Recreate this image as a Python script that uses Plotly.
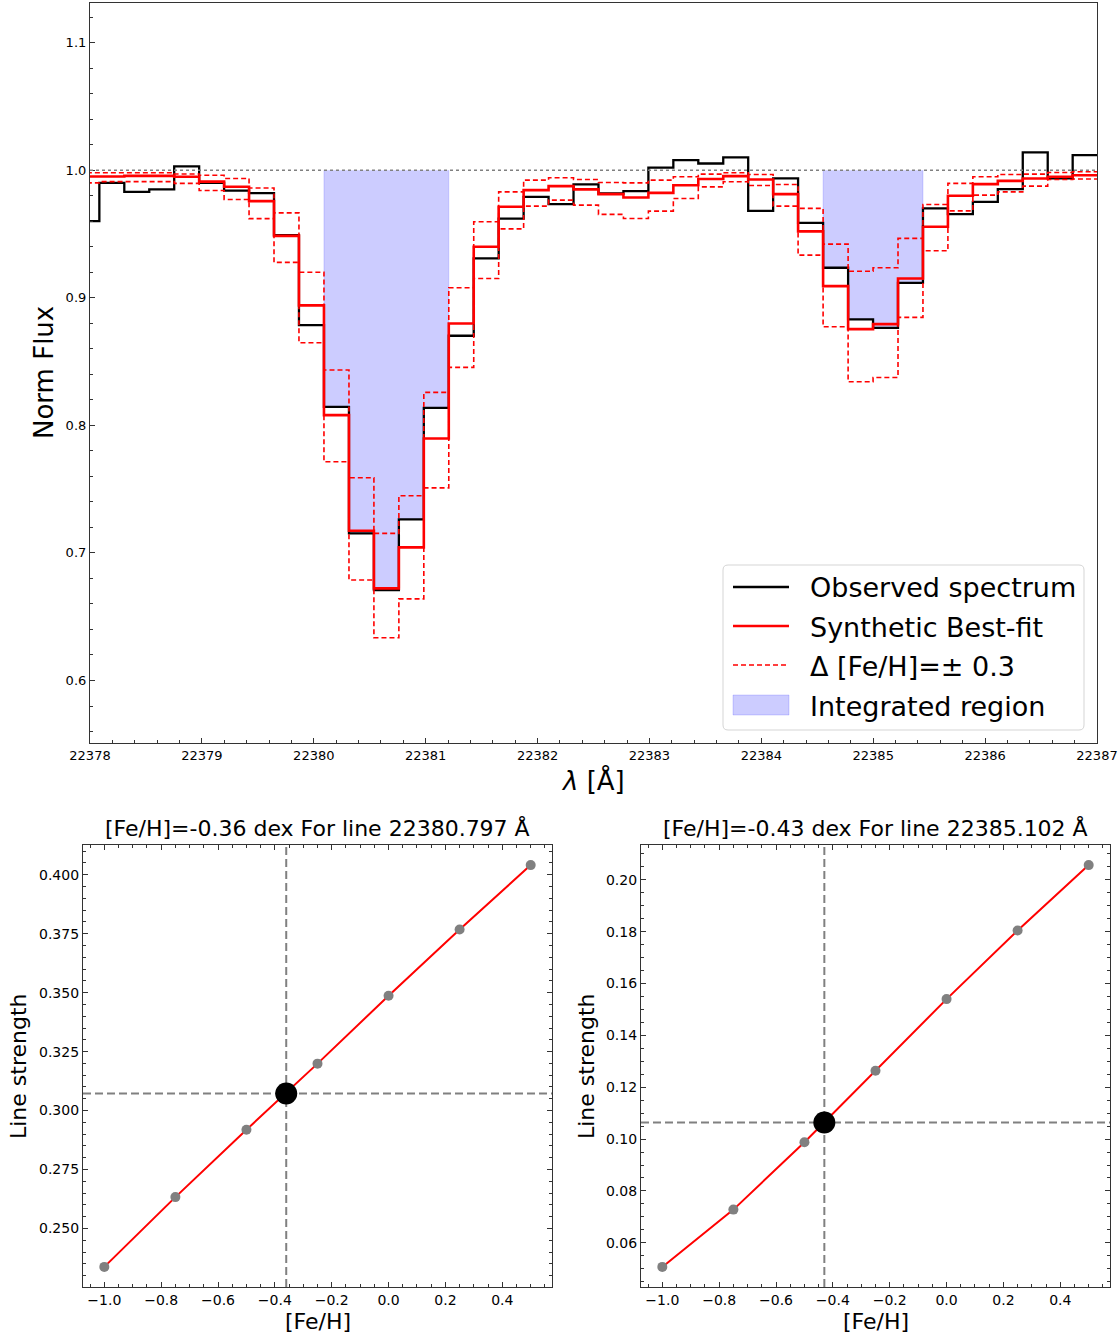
import plotly.graph_objects as go

# ---------------------------------------------------------------- spectrum data
wavelength = [
    22377.972, 22378.195, 22378.418, 22378.641, 22378.864, 22379.087, 22379.310,
    22379.533, 22379.756, 22379.979, 22380.203, 22380.426, 22380.649, 22380.872,
    22381.095, 22381.318, 22381.541, 22381.764, 22381.987, 22382.210, 22382.433,
    22382.656, 22382.879, 22383.102, 22383.325, 22383.548, 22383.771, 22383.994,
    22384.217, 22384.440, 22384.664, 22384.887, 22385.110, 22385.333, 22385.556,
    22385.779, 22386.002, 22386.225, 22386.448, 22386.671, 22386.894, 22387.117,
]
obs_flux = [
    0.960, 0.990, 0.983, 0.985, 1.003, 0.990, 0.984, 0.982, 0.949, 0.8785,
    0.8145, 0.7153, 0.6709, 0.7262, 0.8137, 0.8702, 0.9308, 0.962, 0.979, 0.9734,
    0.9888, 0.9817, 0.9835, 1.002, 1.0078, 1.0052, 1.010, 0.968, 0.9935, 0.9587,
    0.9235, 0.883, 0.8764, 0.9117, 0.970, 0.9655, 0.9752, 0.9851, 1.0139, 0.9935,
    1.0118, 1.0118,
]
fit_flux = [
    0.995, 0.995, 0.9955, 0.9955, 0.9948, 0.991, 0.987, 0.9757, 0.9485, 0.894,
    0.808, 0.7173, 0.6722, 0.7043, 0.7897, 0.8798, 0.940, 0.9713, 0.9843, 0.9875,
    0.9849, 0.9812, 0.9786, 0.9822, 0.9882, 0.993, 0.9953, 0.9927, 0.9812, 0.952,
    0.9091, 0.8754, 0.8793, 0.9151, 0.9556, 0.9799, 0.989, 0.9916, 0.9935, 0.9948,
    0.996, 0.996,
]
# synthetic spectra computed at [Fe/H] -0.3 and +0.3 around the best fit
fit_flux_low_feh = [
    0.998, 0.998, 0.998, 0.998, 0.997, 0.996, 0.9935, 0.986, 0.9665, 0.920,
    0.8433, 0.7589, 0.7153, 0.7448, 0.8258, 0.9078, 0.9595, 0.983, 0.9922, 0.994,
    0.9927, 0.9903, 0.990, 0.9922, 0.9948, 0.9969, 0.9979, 0.9966, 0.9888, 0.970,
    0.942, 0.9208, 0.9235, 0.9465, 0.9731, 0.9896, 0.9948, 0.9966, 0.9969, 0.9982,
    0.9987, 0.9987,
]
fit_flux_high_feh = [
    0.990, 0.991, 0.991, 0.991, 0.9896, 0.984, 0.977, 0.962, 0.9277, 0.8647,
    0.7714, 0.6787, 0.6335, 0.664, 0.751, 0.8454, 0.9151, 0.954, 0.9718, 0.9765,
    0.9726, 0.9653, 0.9621, 0.9679, 0.9778, 0.9869, 0.9909, 0.988, 0.9718, 0.9334,
    0.8772, 0.8341, 0.8375, 0.8846, 0.9368, 0.9681, 0.9804, 0.983, 0.9875, 0.9927,
    0.993, 0.993,
]
continuum = 1.0
integration_windows = [(22380.09, 22381.21), (22384.55, 22385.45)]

# ------------------------------------------------------- curve-of-growth data
feh_grid = [-1.0, -0.75, -0.5, -0.25, 0.0, 0.25, 0.5]
strength_line1 = [0.2337, 0.2633, 0.2919, 0.3199, 0.3487, 0.3768, 0.4041]
strength_line2 = [0.0507, 0.0728, 0.0988, 0.1264, 0.1540, 0.1805, 0.2057]
best_feh = [-0.36, -0.43]
best_strength = [0.3072, 0.1064]
line_centres = ["22380.797", "22385.102"]

legend_labels = ["Observed spectrum", "Synthetic Best-fit", "Δ [Fe/H]=± 0.3", "Integrated region"]

FONT = "DejaVu Sans"
W, H = 1120, 1338
AXCOL = "#333333"
FILL = "rgba(0,0,255,0.2)"
FILL_EDGE = "rgba(0,0,255,0.15)"


def px(x):
    return x / W


def py(y):
    return 1 - y / H


# pixel-bin edges for the stepped spectrum
mids = [(a + b) / 2 for a, b in zip(wavelength[:-1], wavelength[1:])]
left_edges = [wavelength[0] - (mids[0] - wavelength[0])] + mids
right_edges = mids + [wavelength[-1] + (wavelength[-1] - mids[-1])]

fill_x, fill_y = [], []
for lo, hi in integration_windows:
    idx = [i for i, w in enumerate(wavelength) if lo <= w <= hi]
    fill_x.append(left_edges[idx[0]])
    fill_y.append(continuum)
    for i in idx:
        fill_x += [left_edges[i], right_edges[i]]
        fill_y += [obs_flux[i], obs_flux[i]]
    fill_x.append(right_edges[idx[-1]])
    fill_y.append(continuum)
    fill_x.append(None)
    fill_y.append(None)

fig = go.Figure()

# integrated regions
fig.add_trace(go.Scatter(
    x=fill_x, y=fill_y, mode="lines", fill="toself",
    fillcolor=FILL, line=dict(color=FILL_EDGE, width=1),
    name=legend_labels[3], showlegend=False, xaxis="x", yaxis="y",
))
fig.add_trace(go.Scatter(
    x=wavelength, y=obs_flux, mode="lines", line=dict(color="black", width=2.3, shape="hvh"),
    name=legend_labels[0], showlegend=False, xaxis="x", yaxis="y",
))
fig.add_trace(go.Scatter(
    x=wavelength, y=fit_flux, mode="lines", line=dict(color="red", width=2.6, shape="hvh"),
    name=legend_labels[1], showlegend=False, xaxis="x", yaxis="y",
))
fig.add_trace(go.Scatter(
    x=wavelength, y=fit_flux_low_feh, mode="lines",
    line=dict(color="red", width=1.6, shape="hvh", dash="5px,3px"),
    name=legend_labels[2], showlegend=False, xaxis="x", yaxis="y",
))
fig.add_trace(go.Scatter(
    x=wavelength, y=fit_flux_high_feh, mode="lines",
    line=dict(color="red", width=1.6, shape="hvh", dash="5px,3px"),
    showlegend=False, xaxis="x", yaxis="y",
))

# curve-of-growth panels
shapes = [dict(type="line", xref="x domain", yref="y", x0=0, x1=1, y0=continuum, y1=continuum,
               line=dict(color="gray", width=1.5, dash="dot"), layer="above")]
ranges = []
for k, strengths in enumerate([strength_line1, strength_line2]):
    xa = "x%d" % (k + 2)
    ya = "y%d" % (k + 2)
    fig.add_trace(go.Scatter(
        x=feh_grid, y=strengths, mode="lines", line=dict(color="red", width=2),
        showlegend=False, xaxis=xa, yaxis=ya,
    ))
    fig.add_trace(go.Scatter(
        x=feh_grid, y=strengths, mode="markers", marker=dict(color="gray", size=10),
        showlegend=False, xaxis=xa, yaxis=ya,
    ))
    fig.add_trace(go.Scatter(
        x=[best_feh[k]], y=[best_strength[k]], mode="markers",
        marker=dict(color="black", size=22), showlegend=False, xaxis=xa, yaxis=ya,
    ))
    shapes.append(dict(type="line", xref=xa, yref=ya + " domain", x0=best_feh[k], x1=best_feh[k],
                       y0=0, y1=1, line=dict(color="gray", width=2, dash="8px,4px"), layer="below"))
    shapes.append(dict(type="line", xref=xa + " domain", yref=ya, x0=0, x1=1,
                       y0=best_strength[k], y1=best_strength[k],
                       line=dict(color="gray", width=2, dash="8px,4px"), layer="below"))
    lo, hi = min(strengths), max(strengths)
    pad = 0.05 * (hi - lo)
    ranges.append([lo - pad, hi + pad])

xpad = 0.05 * (feh_grid[-1] - feh_grid[0])
feh_range = [feh_grid[0] - xpad, feh_grid[-1] + xpad]


def axis_style(size, mirror):
    return dict(
        showline=True, linecolor=AXCOL, linewidth=1.2, mirror=mirror,
        ticks="inside", ticklen=5, tickwidth=1, tickcolor=AXCOL,
        showgrid=False, zeroline=False, automargin=False,
        tickfont=dict(family=FONT, size=size, color="black"),
    )


top_x = axis_style(13, True)
top_x.update(domain=[px(90), px(1097)], anchor="y", range=[22378, 22387], dtick=1, tick0=22378,
             tickformat="d", minor=dict(dtick=0.2, ticks="inside", ticklen=3, tickcolor=AXCOL))
top_y = axis_style(13, True)
top_y.update(domain=[py(743), py(3)], anchor="x", range=[0.551, 1.131], dtick=0.1, tick0=0,
             tickformat=".1f", minor=dict(dtick=0.02, ticks="inside", ticklen=3, tickcolor=AXCOL))

layout_axes = dict(xaxis=top_x, yaxis=top_y)
bottom_dom = [[px(83), px(552)], [px(641), px(1110)]]
ydticks = [0.025, 0.02]
yfmts = [".3f", ".2f"]
for k in range(2):
    xa = axis_style(14, "allticks")
    xa.update(domain=bottom_dom[k], anchor="y%d" % (k + 2), range=feh_range, dtick=0.2, tick0=0,
              tickformat=".1f", minor=dict(dtick=0.05, ticks="inside", ticklen=3, tickcolor=AXCOL))
    ya = axis_style(14, "allticks")
    ya.update(domain=[py(1287), py(845)], anchor="x%d" % (k + 2), range=ranges[k], dtick=ydticks[k],
              tick0=0, tickformat=yfmts[k],
              minor=dict(dtick=0.005, ticks="inside", ticklen=3, tickcolor=AXCOL))
    layout_axes["xaxis%d" % (k + 2)] = xa
    layout_axes["yaxis%d" % (k + 2)] = ya

annotations = [
    dict(text="Norm Flux", x=px(44), y=py(373), textangle=-90, font=dict(size=26)),
    dict(text="<i>λ</i> [Å]", x=px(593), y=py(780), font=dict(size=26)),
]
title_cx = [317.5, 875.5]
label_x = [18, 586]
for k in range(2):
    annotations.append(dict(
        text="[Fe/H]=%.2f dex For line %s Å" % (best_feh[k], line_centres[k]),
        x=px(title_cx[k]), y=py(828), font=dict(size=22)))
    annotations.append(dict(text="Line strength", x=px(label_x[k]), y=py(1066), textangle=-90,
                            font=dict(size=22)))
    annotations.append(dict(text="[Fe/H]", x=px(title_cx[k]), y=py(1321), font=dict(size=22)))

# ---------------------------------------------------------------- legend box
lg_l, lg_r, lg_t, lg_b, rad = 723, 1084, 565, 730, 5
rx, ry = rad / W, rad / H
L, R, T, B = px(lg_l), px(lg_r), py(lg_t), py(lg_b)
legend_path = (
    f"M {L + rx} {B} L {R - rx} {B} Q {R} {B} {R} {B + ry} L {R} {T - ry} Q {R} {T} {R - rx} {T} "
    f"L {L + rx} {T} Q {L} {T} {L} {T - ry} L {L} {B + ry} Q {L} {B} {L + rx} {B} Z"
)
shapes.append(dict(type="path", xref="paper", yref="paper", path=legend_path,
                   fillcolor="rgba(255,255,255,0.8)", line=dict(color="#d5d5d5", width=1),
                   layer="above"))
row_y = [587, 626, 665, 705]
samp_l, samp_r = 733, 789
row_styles = [dict(color="black", width=2.3), dict(color="red", width=2.4),
              dict(color="red", width=1.6, dash="5px,3px")]
for r, st in enumerate(row_styles):
    shapes.append(dict(type="line", xref="paper", yref="paper", x0=px(samp_l), x1=px(samp_r),
                       y0=py(row_y[r]), y1=py(row_y[r]), line=st, layer="above"))
shapes.append(dict(type="rect", xref="paper", yref="paper", x0=px(samp_l), x1=px(samp_r),
                   y0=py(row_y[3] + 10), y1=py(row_y[3] - 10), fillcolor=FILL,
                   line=dict(color=FILL_EDGE, width=1), layer="above"))
for r, lab in enumerate(legend_labels):
    annotations.append(dict(text=lab, x=px(808), y=py(row_y[r] + 1), xanchor="left",
                            font=dict(size=27)))

for a in annotations:
    a.update(xref="paper", yref="paper", showarrow=False, yanchor="middle")
    a.setdefault("xanchor", "center")
    a["font"].update(family=FONT, color="black")

fig.update_layout(
    width=W, height=H, margin=dict(l=0, r=0, t=0, b=0),
    paper_bgcolor="white", plot_bgcolor="white",
    font=dict(family=FONT, color="black"),
    shapes=shapes, annotations=annotations, showlegend=False,
    **layout_axes,
)

fig.write_html("out.html")
